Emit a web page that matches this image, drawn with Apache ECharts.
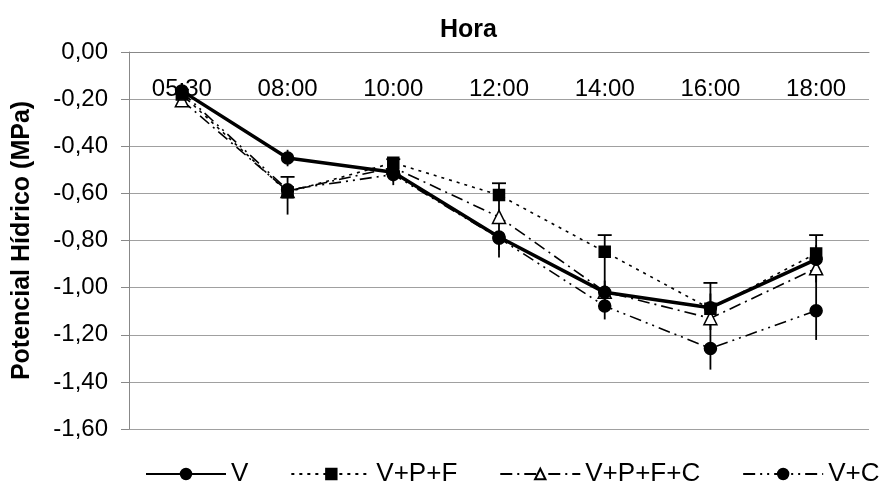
<!DOCTYPE html>
<html>
<head>
<meta charset="utf-8">
<script src="https://cdn.jsdelivr.net/npm/echarts@6/dist/echarts.min.js"></script>
<style>
  html, body { margin: 0; padding: 0; background: #fff; }
  #chart { width: 887px; height: 484px; }
</style>
</head>
<body>
<div id="chart"></div>
<script>
const hours = ['05:30', '08:00', '10:00', '12:00', '14:00', '16:00', '18:00'];
const names = ['V', 'V+P+F', 'V+P+F+C', 'V+C'];

// mean values (MPa)
const valV    = [-0.165, -0.45, -0.51, -0.785, -1.02, -1.085, -0.88];
const valVPF  = [-0.18, -0.595, -0.47, -0.607, -0.848, -1.09, -0.855];
const valVPFC = [-0.205, -0.59, -0.49, -0.70, -1.017, -1.13, -0.918];
const valVC   = [-0.17, -0.585, -0.52, -0.79, -1.078, -1.258, -1.098];

// error bars (upper / lower extent)
const errVUp     = [0.02, 0.035, 0.055, 0.087, 0.05, 0.06, 0.06];
const errVDown   = [0.02, 0.035, 0.055, 0.087, 0.05, 0.06, 0.06];
const errVPFUp   = [0.02, 0.065, 0.015, 0.05, 0.071, 0.11, 0.078];
const errVPFCUp  = [0.02, 0.02, 0.02, 0.10, 0.17, 0.05, 0.06];
const errVPFCDown= [0.02, 0.02, 0.02, 0.02, 0.02, 0.05, 0.06];
const errVCUp    = [0.02, 0.02, 0.02, 0.02, 0.06, 0.13, 0.18];
const errVCDown  = [0.02, 0.105, 0.03, 0.05, 0.057, 0.09, 0.124];

const FONT = "'Liberation Sans', Arial, sans-serif";

function errSeries(vals, up, down, cap) {
    return {
        type: 'custom',
        z: 1,
        silent: true,
        data: vals.map((v, i) => [i, v, up ? up[i] : 0, down ? down[i] : 0]),
        renderItem: function(params, api) {
            const x = api.value(0), v = api.value(1);
            const top = api.coord([x, v + api.value(2)]);
            const bot = api.coord([x, v - api.value(3)]);
            const style = { stroke: '#000', lineWidth: 1.8 };
            const children = [{
                type: 'line',
                shape: { x1: top[0], y1: top[1], x2: bot[0], y2: bot[1] },
                style: style
            }];
            if (cap) {
                children.push({
                    type: 'line',
                    shape: { x1: top[0] - 7, y1: top[1], x2: top[0] + 7, y2: top[1] },
                    style: style
                });
            }
            return { type: 'group', children: children };
        }
    };
}

function lineSeries(name, data, symbol, size, lineStyle, fill) {
    return {
        name: name,
        type: 'line',
        z: 3,
        data: data,
        symbol: symbol,
        symbolSize: size,
        showAllSymbol: true,
        itemStyle: { color: fill, borderColor: '#000', borderWidth: 1.5 },
        lineStyle: Object.assign({ color: '#000' }, lineStyle)
    };
}

const chart = echarts.init(document.getElementById('chart'));
chart.setOption({
    animation: false,
    backgroundColor: '#fff',
    textStyle: { fontFamily: FONT, color: '#000' },
    title: {
        text: 'Hora',
        left: 435,
        top: 13,
        textStyle: { fontFamily: FONT, fontSize: 25, fontWeight: 'bold', color: '#000' }
    },
    grid: { left: 129, right: 18, top: 52, bottom: 55, containLabel: false },
    legend: {
        data: names,
        left: 140,
        top: 456,
        itemWidth: 80,
        itemHeight: 13,
        itemGap: 42,
        textStyle: { fontFamily: FONT, fontSize: 26, color: '#000' }
    },
    xAxis: {
        type: 'category',
        position: 'top',
        data: hours,
        boundaryGap: true,
        axisLine: { onZero: false, lineStyle: { color: '#888', width: 1 } },
        axisTick: { inside: true, length: 7, interval: 0, lineStyle: { color: '#888' } },
        axisLabel: { inside: true, margin: 25, interval: 0, fontFamily: FONT, fontSize: 24, color: '#000' },
        splitLine: { show: false }
    },
    yAxis: {
        type: 'value',
        min: -1.6,
        max: 0,
        interval: 0.2,
        name: 'Potencial Hídrico (MPa)',
        nameLocation: 'middle',
        nameRotate: 90,
        nameGap: 94,
        nameTextStyle: { fontFamily: FONT, fontSize: 25, fontWeight: 'bold', color: '#000' },
        axisLine: { show: true, lineStyle: { color: '#888', width: 1 } },
        axisTick: { show: true, length: 8, lineStyle: { color: '#888' } },
        axisLabel: {
            margin: 21,
            fontFamily: FONT,
            fontSize: 24,
            color: '#000',
            formatter: v => v.toFixed(2).replace('.', ',')
        },
        splitLine: { lineStyle: { color: '#a0a0a0', width: 1 } }
    },
    series: [
        errSeries(valV, errVUp, errVDown, false),
        errSeries(valVPFC, errVPFCUp, errVPFCDown, false),
        errSeries(valVC, errVCUp, errVCDown, false),
        errSeries(valVPF, errVPFUp, null, true),
        lineSeries('V+C', valVC, 'circle', 12, { width: 1.6, type: [12, 5, 2, 5, 2, 5] }, '#000'),
        lineSeries('V+P+F+C', valVPFC, 'triangle', 13, { width: 1.6, type: [12, 5, 2, 5] }, '#fff'),
        lineSeries('V+P+F', valVPF, 'rect', 11, { width: 1.6, type: [3, 5] }, '#000'),
        lineSeries('V', valV, 'circle', 12, { width: 3.5, type: 'solid' }, '#000')
    ]
});
</script>
</body>
</html>
